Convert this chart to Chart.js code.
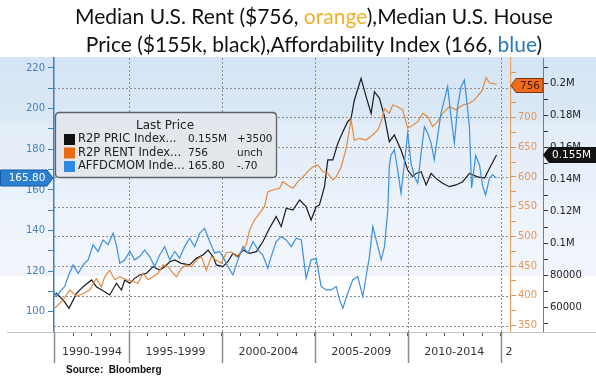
<!DOCTYPE html>
<html><head><meta charset="utf-8">
<script src="https://cdn.jsdelivr.net/npm/chart.js@4.4.1/dist/chart.umd.min.js"></script>
<style>
html,body{margin:0;padding:0;background:#fff;}
#wrap{position:relative;width:596px;height:382px;overflow:hidden;}
#c{position:absolute;left:0;top:0;}
.tl{position:absolute;left:16px;width:596px;text-align:center;font-family:Lato,'Open Sans',sans-serif;font-size:21px;color:#111;white-space:nowrap;line-height:26px;}
.tl .inner{display:inline-block;transform-origin:center;}
#src{position:absolute;left:66px;top:364px;font-family:'Liberation Sans',Arial,sans-serif;font-weight:bold;font-size:10px;color:#111;}
</style></head><body>
<div id="wrap">
<canvas id="c" width="596" height="382"></canvas>
<div class="tl" id="t1" style="top:3px"><span class="inner">Median U.S. Rent ($756, <span style="color:#f0b02a">orange</span>),Median U.S. House</span></div>
<div class="tl" id="t2" style="top:31px"><span class="inner">Price ($155k, black),Affordability Index (166, <span style="color:#2a78b8">blue</span>)</span></div>
<div id="src">Source:&nbsp; Bloomberg</div>
</div>
<script>
// ---------- DATA ----------
const blackYears = [1991.00,1991.09,1991.45,1991.77,1992.17,1992.53,1992.98,1993.24,1993.69,1993.96,1994.32,1994.59,1994.77,1995.04,1995.30,1995.57,1995.93,1996.29,1996.65,1996.92,1997.19,1997.46,1997.81,1998.26,1998.62,1998.98,1999.25,1999.52,1999.70,2000.05,2000.32,2000.59,2000.86,2001.13,2001.49,2001.85,2002.20,2002.56,2002.92,2003.19,2003.46,2003.82,2004.18,2004.53,2004.80,2005.07,2005.25,2005.52,2005.70,2005.97,2006.24,2006.51,2006.77,2006.95,2007.13,2007.49,2007.76,2008.03,2008.21,2008.48,2008.75,2009.01,2009.28,2009.64,2010.00,2010.27,2010.45,2010.72,2010.99,2011.26,2011.52,2011.88,2012.24,2012.60,2012.96,2013.32,2013.76,2014.14,2014.41,2014.78];
const blackValues = [67500,68500,64400,59200,68500,72700,76900,72700,69600,67500,74800,70600,76900,74800,77900,80000,81000,85200,83100,85200,88300,89400,87300,86300,90400,92500,95600,91500,86300,85200,88300,93500,91500,95600,93500,94600,100800,109200,116500,110200,121700,120600,126900,122700,114400,122700,123800,135200,151900,151900,162300,169600,175800,177900,189400,202900,191500,181000,194600,190400,179000,163300,167500,158100,145600,141500,143500,144600,136300,143500,140400,137300,135200,136300,138300,143500,141300,140600,146900,155000];

const rentYears = [1991.00,1991.45,1991.81,1992.17,1992.53,1992.89,1993.24,1993.51,1993.69,1993.96,1994.23,1994.50,1994.86,1995.22,1995.48,1995.75,1996.02,1996.29,1996.56,1996.83,1997.10,1997.37,1997.55,1997.81,1998.08,1998.35,1998.62,1998.89,1999.16,1999.43,1999.70,1999.96,2000.23,2000.50,2000.77,2001.04,2001.31,2001.49,2001.76,2002.03,2002.29,2002.47,2002.74,2003.10,2003.28,2003.55,2003.82,2004.09,2004.36,2004.62,2004.89,2005.16,2005.43,2005.70,2005.97,2006.15,2006.42,2006.69,2006.95,2007.13,2007.40,2007.76,2008.12,2008.39,2008.57,2008.75,2009.01,2009.19,2009.46,2009.73,2010.00,2010.27,2010.54,2010.81,2011.08,2011.34,2011.61,2011.88,2012.24,2012.60,2012.96,2013.32,2013.60,2014.00,2014.22,2014.41,2014.78];
const rentValues = [379,393,410,399,404,410,429,415,432,443,427,432,427,424,421,438,427,432,438,452,449,438,432,446,452,449,460,466,443,466,460,455,472,474,466,474,486,511,528,539,550,575,578,581,592,586,581,592,600,609,617,620,609,606,595,600,617,648,696,662,665,662,671,679,693,715,707,721,718,713,682,687,693,707,701,685,693,707,718,713,721,724,730,745,767,758,756];

const affordYears = [1990.91,1991.09,1991.36,1991.54,1991.72,1991.99,1992.26,1992.53,1992.80,1993.06,1993.33,1993.60,1993.87,1994.14,1994.32,1994.50,1994.77,1995.04,1995.30,1995.57,1995.84,1996.11,1996.38,1996.65,1996.92,1997.19,1997.46,1997.72,1997.99,1998.26,1998.53,1998.80,1999.07,1999.34,1999.61,1999.87,2000.05,2000.32,2000.59,2000.86,2001.13,2001.40,2001.67,2001.94,2002.20,2002.47,2002.65,2002.92,2003.19,2003.46,2003.73,2004.00,2004.27,2004.53,2004.80,2005.07,2005.34,2005.61,2005.88,2006.15,2006.33,2006.51,2006.77,2007.04,2007.31,2007.58,2007.76,2007.94,2008.12,2008.30,2008.57,2008.75,2008.93,2009.01,2009.10,2009.28,2009.46,2009.64,2009.82,2010.00,2010.18,2010.36,2010.54,2010.72,2010.90,2011.08,2011.26,2011.43,2011.61,2011.79,2011.97,2012.15,2012.33,2012.51,2012.69,2012.87,2013.05,2013.23,2013.32,2013.44,2013.66,2013.87,2014.03,2014.19,2014.41,2014.57,2014.78];
const affordValues = [110.8,107.5,110.8,112.5,117.4,123.1,119.0,123.1,125.6,133.0,129.7,135.4,133.0,138.7,133.0,123.9,125.6,129.7,125.6,127.2,130.5,127.2,122.3,128.0,132.1,125.6,129.7,126.4,132.1,136.2,132.1,138.7,141.1,134.6,128.9,129.7,127.2,122.3,118.2,125.6,132.1,128.9,134.6,130.5,128.0,121.5,127.2,134.6,137.0,135.4,132.1,136.2,135.4,116.6,125.6,126.4,112.5,110.8,110.8,112.5,105.9,101.8,109.2,115.7,117.4,107.5,117.4,127.2,142.0,135.4,125.6,132.1,150.2,171.5,177.2,179.7,169.8,158.4,173.1,187.9,173.1,166.6,163.3,178.0,191.1,187.9,183.0,174.8,186.2,197.7,204.3,210.8,196.1,183.0,201.0,210.8,214.1,199.3,191.1,161.0,177.0,172.0,162.0,157.5,166.0,167.4,165.8];

const yearTicks = [1991,1992,1993,1994,1995,1996,1997,1998,1999,2000,2001,2002,2003,2004,2005,2006,2007,2008,2009,2010,2011,2012,2013,2014,2015];
const periodCenters = [1993,1997.5,2002.5,2007.5,2012.5,2015.45];
const periodLabels = ['1990-1994','1995-1999','2000-2004','2005-2009','2010-2014','2'];
const affordTicks = [100,110,120,130,140,150,160,170,180,190,200,210,220];
const rentTicks = [350,375,400,425,450,475,500,525,550,575,600,625,650,675,700,725,750,775];
const priceTicks = [50000,60000,70000,80000,90000,100000,110000,120000,130000,140000,150000,160000,170000,180000,190000,200000,210000];

const legendNames = ['R2P PRIC Index...','R2P RENT Index...','AFFDCMOM Inde...'];
const legendLast = ['0.155M','756','165.80'];
const legendChange = ['+3500','unch','-.70'];
const legendColors = ['#111111','#ee6a12','#2f8ae6'];

// ---------- HELPERS ----------
const F = 'DejaVu Sans, Verdana, sans-serif';
function fmtPrice(v){ return v >= 100000 ? parseFloat((v/1e6).toFixed(3)) + 'M' : String(v); }
function pts(xs, ys){ return xs.map((x,i)=>({x:x, y:ys[i]})); }
const allXTicks = Array.from(new Set(yearTicks.concat(periodCenters))).sort((a,b)=>a-b);
const GRID = '#8c8c8c';
const transparent = 'rgba(0,0,0,0)';

const bgPlugin = {
  id:'bg',
  beforeDraw(chart){
    const ctx = chart.ctx; ctx.save();
    ctx.fillStyle = '#ffffff'; ctx.fillRect(0,0,596,382);
    let g = ctx.createLinearGradient(0,57,0,123);
    g.addColorStop(0,'#d5e5f5'); g.addColorStop(1,'#dce9f6');
    ctx.fillStyle = g; ctx.fillRect(0,57,596,66);
    g = ctx.createLinearGradient(0,123,0,200);
    g.addColorStop(0,'#e3edf8'); g.addColorStop(1,'#e9f1fa');
    ctx.fillStyle = g; ctx.fillRect(0,123,596,77);
    g = ctx.createLinearGradient(0,200,0,276);
    g.addColorStop(0,'#edf3fb'); g.addColorStop(1,'#f2f6fc');
    ctx.fillStyle = g; ctx.fillRect(0,200,596,76);
    ctx.restore();
  },
  beforeDatasetsDraw(chart){
    // dotted grid lines, positioned through the chart's own scales
    const ctx = chart.ctx, ca = chart.chartArea, xs = chart.scales.x, yr = chart.scales.yR;
    ctx.save();
    ctx.strokeStyle = GRID; ctx.lineWidth = 1; ctx.setLineDash([2,2]);
    rentTicks.forEach(v=>{
      if (v % 50 !== 0) return;
      const y = Math.round(yr.getPixelForValue(v)) + 0.5;
      if (y < ca.top || y > ca.bottom) return;
      ctx.beginPath(); ctx.moveTo(ca.left, y); ctx.lineTo(ca.right, y); ctx.stroke();
    });
    yearTicks.forEach(v=>{
      if (v % 5 !== 0) return;
      const x = Math.round(xs.getPixelForValue(v)) + 0.5;
      ctx.beginPath(); ctx.moveTo(x, ca.top); ctx.lineTo(x, ca.bottom); ctx.stroke();
    });
    ctx.restore();
  },
  afterDraw(chart){
    const ctx = chart.ctx, xs = chart.scales.x, ca = chart.chartArea;
    ctx.save();
    ctx.strokeStyle = '#c4c4c4'; ctx.lineWidth = 1;
    ctx.beginPath(); ctx.moveTo(7, ca.bottom+0.5); ctx.lineTo(596, ca.bottom+0.5); ctx.stroke();
    ctx.strokeStyle = '#8c8c8c'; ctx.lineWidth = 1.5;
    const seps = [ca.left];
    yearTicks.forEach(y=>{ if (y%5===0) seps.push(xs.getPixelForValue(y)); });
    seps.forEach(px=>{ ctx.beginPath(); ctx.moveTo(Math.round(px)+0.5, ca.bottom); ctx.lineTo(Math.round(px)+0.5, ca.bottom+31); ctx.stroke(); });
    ctx.restore();
  }
};

function roundRect(ctx,x,y,w,h,r){
  ctx.beginPath();
  ctx.moveTo(x+r,y); ctx.lineTo(x+w-r,y); ctx.quadraticCurveTo(x+w,y,x+w,y+r);
  ctx.lineTo(x+w,y+h-r); ctx.quadraticCurveTo(x+w,y+h,x+w-r,y+h);
  ctx.lineTo(x+r,y+h); ctx.quadraticCurveTo(x,y+h,x,y+h-r);
  ctx.lineTo(x,y+r); ctx.quadraticCurveTo(x,y,x+r,y); ctx.closePath();
}

const overlayPlugin = {
  id:'overlay',
  afterDatasetsDraw(chart){
    const ctx = chart.ctx; ctx.save();
    roundRect(ctx,55.5,112.5,221,65,4);
    ctx.fillStyle = 'rgba(228,231,236,0.95)'; ctx.fill();
    ctx.strokeStyle = '#5e636b'; ctx.lineWidth = 1.3; ctx.stroke();
    ctx.fillStyle = '#222'; ctx.textBaseline = 'middle';
    ctx.font = '12px ' + F; ctx.textAlign = 'center';
    ctx.fillText('Last Price', 165, 126);
    ctx.textAlign = 'left';
    for (let i=0;i<3;i++){
      const y = 139.5 + i*13.5;
      ctx.fillStyle = legendColors[i]; ctx.fillRect(64, y-5.5, 11, 11);
      ctx.fillStyle = '#222';
      ctx.font = '11.5px ' + F; ctx.fillText(legendNames[i], 78, y);
      ctx.font = '10.5px ' + F; ctx.fillText(legendLast[i], 188, y);
      ctx.fillText(legendChange[i], 237, y);
    }
    ctx.restore();
  },
  afterDraw(chart){
    const ctx = chart.ctx; ctx.save();
    ctx.font = '10.5px ' + F; ctx.textBaseline = 'middle';
    let y = Math.round(chart.scales.yA.getPixelForValue(affordValues[affordValues.length-1]));
    ctx.beginPath(); ctx.moveTo(0.5,y-8); ctx.lineTo(47,y-8); ctx.lineTo(53,y); ctx.lineTo(47,y+8); ctx.lineTo(0.5,y+8); ctx.closePath();
    ctx.fillStyle = '#2b7fd3'; ctx.fill(); ctx.strokeStyle = '#1b5aa0'; ctx.lineWidth = 1; ctx.stroke();
    ctx.fillStyle = '#ffffff'; ctx.textAlign = 'center';
    ctx.fillText(affordValues[affordValues.length-1].toFixed(2), 27, y+0.5);
    y = Math.round(chart.scales.yR.getPixelForValue(rentValues[rentValues.length-1])) + 1.5;
    ctx.beginPath(); ctx.moveTo(511,y); ctx.lineTo(516,y-7); ctx.lineTo(543,y-7); ctx.lineTo(543,y+7); ctx.lineTo(516,y+7); ctx.closePath();
    ctx.fillStyle = '#f06c1c'; ctx.fill(); ctx.strokeStyle = '#7a3510'; ctx.stroke();
    ctx.fillStyle = '#4a1500';
    ctx.fillText(String(rentValues[rentValues.length-1]), 530, y+0.5);
    y = Math.round(chart.scales.yP.getPixelForValue(blackValues[blackValues.length-1]));
    ctx.beginPath(); ctx.moveTo(543,y); ctx.lineTo(549,y-8); ctx.lineTo(597,y-8); ctx.lineTo(597,y+8); ctx.lineTo(549,y+8); ctx.closePath();
    ctx.fillStyle = '#111111'; ctx.fill();
    ctx.fillStyle = '#ffffff'; ctx.textAlign = 'left';
    ctx.fillText(fmtPrice(blackValues[blackValues.length-1]), 552, y+0.5);
    ctx.restore();
  }
};

new Chart(document.getElementById('c'), {
  type: 'line',
  data: {
    datasets: [
      { label:'AFFDCMOM Index', data: pts(affordYears, affordValues), yAxisID:'yA', borderColor:'#3c8fdc', borderWidth:1.2, pointRadius:0, tension:0 },
      { label:'R2P RENT Index', data: pts(rentYears, rentValues), yAxisID:'yR', borderColor:'#e28a3e', borderWidth:1.2, pointRadius:0, tension:0 },
      { label:'R2P PRIC Index', data: pts(blackYears, blackValues), yAxisID:'yP', borderColor:'#1b1b1b', borderWidth:1.2, pointRadius:0, tension:0 }
    ]
  },
  options: {
    responsive:false, animation:false, devicePixelRatio:1,
    layout:{ padding:{ top:58, left:0, right:0, bottom:0 } },
    plugins:{ legend:{display:false}, title:{display:false}, tooltip:{enabled:false} },
    scales: {
      x: {
        type:'linear', position:'bottom', min:1990.96, max:2015.56,
        afterBuildTicks(s){ s.ticks = allXTicks.map(v=>({value:v})); },
        afterFit(s){ s.height = 50; },
        ticks:{ autoSkip:false, maxRotation:0, minRotation:0, padding:10, color:'#333', font:{family:F, size:11},
          callback(v){ const i = periodCenters.indexOf(v); return i>=0 ? periodLabels[i] : ''; } },
        grid:{ drawOnChartArea:false, lineWidth:1, tickLength:4, color:transparent,
          tickColor(c){ const v = c.tick && c.tick.value; return Number.isInteger(v) ? '#555' : transparent; } },
        border:{ display:true, color:'#c4c4c4' }
      },
      yA: {
        type:'linear', position:'left', min:90.1, max:224.9,
        afterBuildTicks(s){ s.ticks = affordTicks.map(v=>({value:v})); },
        afterFit(s){ s.width = 54; },
        ticks:{ padding:3, color:'#4580bd', font:{family:F, size:10}, callback(v){ return v%20===0 ? String(v) : ''; } },
        grid:{ drawOnChartArea:false, tickLength:6, tickColor:'#3d7fc4', lineWidth:1 },
        border:{ display:true, color:'#3d7fc4', width:1.5 }
      },
      yR: {
        type:'linear', position:'right', min:339.1, max:800.1,
        afterBuildTicks(s){ s.ticks = rentTicks.map(v=>({value:v})); },
        afterFit(s){ s.width = 32; },
        ticks:{ padding:2, color:'#e3965a', font:{family:F, size:10}, callback(v){ return v%50===0 ? String(v) : ''; } },
        grid:{ drawOnChartArea:false, tickLength:5, lineWidth:1, tickColor:'#e8914c' },
        border:{ display:true, color:'#e8a262', width:1.2 }
      },
      yP: {
        type:'linear', position:'right', min:44375, max:215625,
        afterBuildTicks(s){ s.ticks = priceTicks.map(v=>({value:v})); },
        afterFit(s){ s.width = 53; },
        ticks:{ padding:2, color:'#222', font:{family:F, size:10}, callback(v){ return v%20000===0 ? fmtPrice(v) : ''; } },
        grid:{ drawOnChartArea:false, tickLength:5, tickColor:'#333', lineWidth:1 },
        border:{ display:true, color:'#7a7a7a', width:1 }
      }
    }
  },
  plugins:[bgPlugin, overlayPlugin]
});

function fitTitle(id, target){
  const s = document.querySelector('#'+id+' .inner');
  const w = s.getBoundingClientRect().width;
  if (w > 0) s.style.transform = 'scaleX(' + (target/w) + ')';
}
function fitAll(){ fitTitle('t1', 476); fitTitle('t2', 452); }
fitAll();
if (document.fonts && document.fonts.ready) document.fonts.ready.then(fitAll);
</script>
</body></html>
